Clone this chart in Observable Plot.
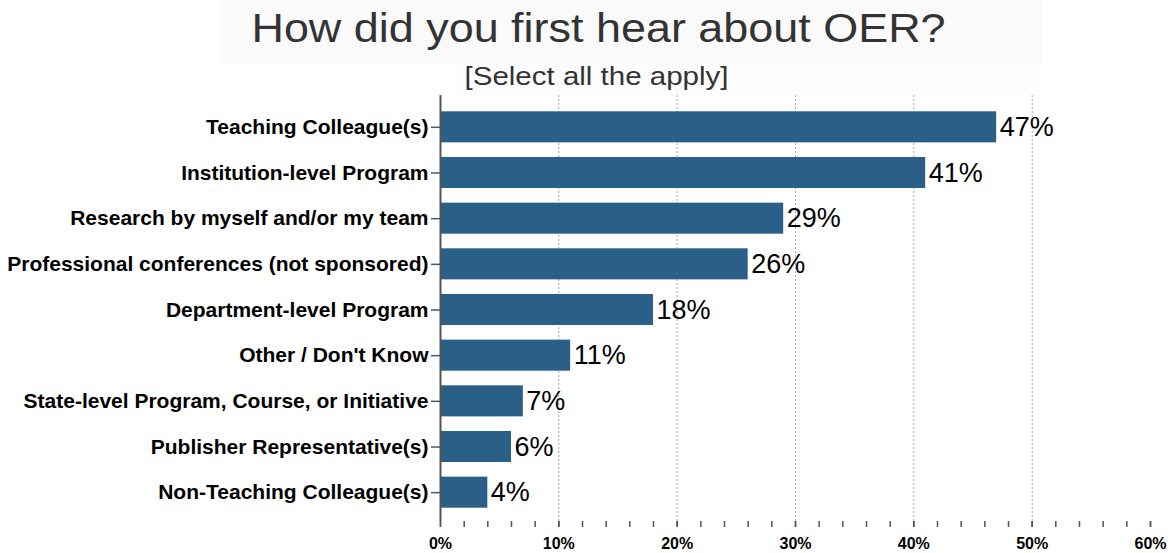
<!DOCTYPE html>
<html>
<head>
<meta charset="utf-8">
<script src="https://cdn.jsdelivr.net/npm/d3@7"></script>
<script src="https://cdn.jsdelivr.net/npm/@observablehq/plot@0.6"></script>
<style>
  body { margin: 0; background: #fff; font-family: "Liberation Sans", Arial, sans-serif; }
  #head { position: relative; height: 92px; width: 1169px; }
  #titlebg { position: absolute; left: 219px; top: 0; width: 823px; height: 64px; background: #fafafa; }
  #subbg { position: absolute; left: 455px; top: 64px; width: 587px; height: 28px; background: #fdfdfd; }
  #title { position: absolute; left: 0; width: 1197px; top: 8px; text-align: center; font-size: 40px; color: #333; line-height: 1; transform: scaleX(1.123); transform-origin: 598.5px 0; white-space: nowrap; }
  #subtitle { position: absolute; left: 0; width: 1193px; top: 63px; text-align: center; font-size: 26px; color: #333; line-height: 1; transform: scaleX(1.134); transform-origin: 596.5px 0; white-space: nowrap; }
</style>
</head>
<body>
<div id="head">
  <div id="titlebg"></div>
  <div id="subbg"></div>
  <div id="title">How did you first hear about OER?</div>
  <div id="subtitle">[Select all the apply]</div>
</div>
<div id="chart"></div>
<script>
const categories = [
  "Teaching Colleague(s)",
  "Institution-level Program",
  "Research by myself and/or my team",
  "Professional conferences (not sponsored)",
  "Department-level Program",
  "Other / Don't Know",
  "State-level Program, Course, or Initiative",
  "Publisher Representative(s)",
  "Non-Teaching Colleague(s)"
];
const values = [47, 41, 29, 26, 18, 11, 7, 6, 4];
const majorTicks = [0, 10, 20, 30, 40, 50, 60];
const gridTicks = [10, 20, 30, 40, 50];

const data = categories.map((c, i) => ({category: c, value: values[i]}));

const chart = Plot.plot({
  width: 1169,
  height: 461,
  marginTop: 3,
  marginBottom: 32,
  marginLeft: 440,
  marginRight: 19,
  style: {fontFamily: "'Liberation Sans', Arial, sans-serif", color: "#000", background: "#fff"},
  x: {domain: [0, 60]},
  y: {domain: categories, paddingInner: 0.32, paddingOuter: 0.16, round: false, insetTop: 9, insetBottom: 6},
  marks: [
    Plot.ruleX(gridTicks, {stroke: "#aaa", strokeDasharray: "2,2", strokeWidth: 1}),
    Plot.barX(data, {y: "category", x: "value", fill: "#2a5f87"}),
    Plot.text(data, {y: "category", x: "value", text: d => d.value + "%", textAnchor: "start", dx: 3, fontSize: 27, fill: "#000"}),
    Plot.axisY({tickSize: 9, tickPadding: 3, fontSize: 21, fontWeight: "bold", stroke: "#555", fill: "#000", strokeWidth: 1.5, label: null}),
    Plot.axisX({ticks: d3.range(0, 61, 2), tickSize: 6, tickFormat: () => "", stroke: "#555", strokeWidth: 1.5, label: null}),
    Plot.axisX({ticks: majorTicks, tickSize: 6, tickPadding: 10, tickFormat: d => d + "%", fontSize: 16, fontWeight: "bold", fill: "#000", stroke: "#555", strokeWidth: 1.5, label: null}),
    Plot.ruleX([0], {stroke: "#555", strokeWidth: 2}),
    Plot.ruleY([0], {stroke: "#555", strokeWidth: 2})
  ]
});
document.getElementById("chart").appendChild(chart);
</script>
</body>
</html>
